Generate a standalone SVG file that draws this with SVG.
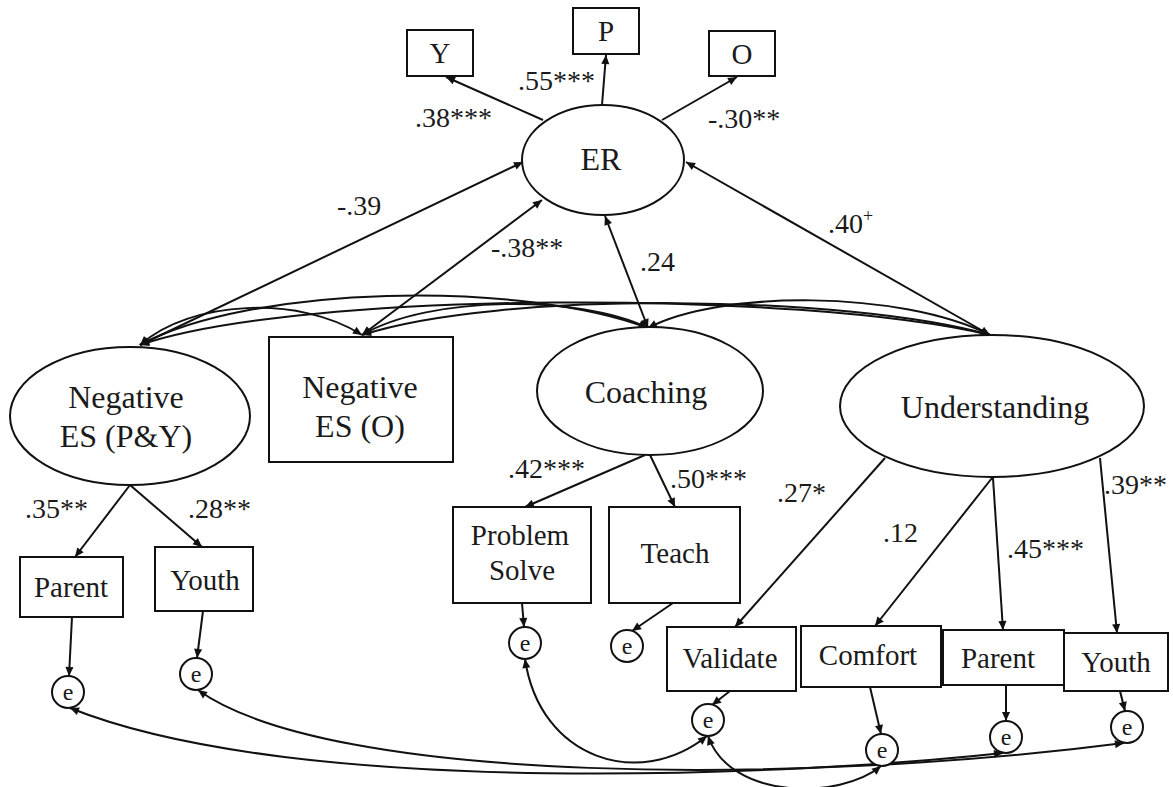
<svg xmlns="http://www.w3.org/2000/svg" width="1173" height="787" viewBox="0 0 1173 787">
<style>
  .shape { fill: #fff; stroke: #111; stroke-width: 2; }
  .big { font-family: "Liberation Serif", "Times New Roman", serif; font-size: 32px; fill: #1a1a1a; text-anchor: middle; }
  .sm { font-family: "Liberation Serif", "Times New Roman", serif; font-size: 29px; fill: #1a1a1a; text-anchor: middle; }
  .e { font-family: "Liberation Serif", "Times New Roman", serif; font-size: 24px; fill: #1a1a1a; text-anchor: middle; }
  .lbl { font-family: "Liberation Serif", "Times New Roman", serif; font-size: 28px; fill: #1a1a1a; }
  .c { fill: none; stroke: #111; stroke-width: 2; }
  .one { marker-end: url(#ah); }
  .two { marker-start: url(#ah); marker-end: url(#ah); }
</style>
<defs>
  <marker id="ah" viewBox="0 0 10 10" refX="10" refY="5" markerWidth="11" markerHeight="9" markerUnits="userSpaceOnUse" orient="auto-start-reverse">
    <path d="M0,0.5 L10,5 L0,9.5 z" fill="#111"/>
  </marker>
</defs>
<rect width="1173" height="787" fill="#fff"/>

<g id="connectors">
  <!-- ER indicators -->
  <path class="c one" d="M543,120 L446,77"/>
  <path class="c one" d="M602,105 L606,55"/>
  <path class="c one" d="M662,120 L737,77"/>
  <!-- predictors to ER -->
  <path class="c two" d="M140,345 L523,162"/>
  <path class="c two" d="M362,335 L542,200"/>
  <path class="c two" d="M648,328 L605,216"/>
  <path class="c two" d="M990,335 L686,162"/>
  <!-- covariances among predictors -->
  <path class="c two" d="M140,345 C190,300 300,295 362,335"/>
  <path class="c two" d="M140,345 C250,285 520,280 648,328"/>
  <path class="c two" d="M140,345 C300,290 800,290 990,335"/>
  <path class="c two" d="M362,335 C430,295 580,295 648,328"/>
  <path class="c two" d="M362,335 C500,290 850,295 990,335"/>
  <path class="c two" d="M648,328 C720,290 900,290 990,335"/>
  <!-- loadings -->
  <path class="c one" d="M130,485 L75,557"/>
  <path class="c one" d="M130,485 L202,547"/>
  <path class="c one" d="M645,455 L525,507"/>
  <path class="c one" d="M650,455 L675,507"/>
  <path class="c one" d="M885,458 L735,627"/>
  <path class="c one" d="M992,478 L875,626"/>
  <path class="c one" d="M993,478 L1003,630"/>
  <path class="c one" d="M1100,458 L1117,633"/>
  <!-- indicators to errors -->
  <path class="c one" d="M72,617 L69,676"/>
  <path class="c one" d="M203,611 L197,658"/>
  <path class="c one" d="M522,603 L524,627"/>
  <path class="c one" d="M673,603 L632,631"/>
  <path class="c one" d="M730,691 L712,705"/>
  <path class="c one" d="M870,687 L881,734"/>
  <path class="c one" d="M1006,685 L1006,721"/>
  <path class="c one" d="M1120,691 L1125,711"/>
  <!-- error covariances -->
  <path class="c two" d="M70,708 C300,800 800,775 1003,753"/>
  <path class="c two" d="M198,690 C330,785 800,785 1124,743"/>
  <path class="c two" d="M525,659 C540,760 640,790 707,736"/>
  <path class="c two" d="M708,736 C730,800 840,800 881,766"/>
</g>

<g id="ER"><ellipse class="shape" cx="603" cy="160" rx="81" ry="55"/><text class="big" x="601" y="170">ER</text></g>
<g id="Y"><rect class="shape" x="407" y="30" width="66" height="46"/><text class="sm" x="440" y="63">Y</text></g>
<g id="P"><rect class="shape" x="573" y="8" width="66" height="46"/><text class="sm" x="606" y="41">P</text></g>
<g id="O"><rect class="shape" x="709" y="31" width="66" height="45"/><text class="sm" x="742" y="64">O</text></g>

<g id="NegESPY"><ellipse class="shape" cx="130" cy="416" rx="120" ry="69"/><text class="big" x="126" y="408">Negative</text><text class="big" x="126" y="447">ES (P&amp;Y)</text></g>
<g id="NegESO"><rect class="shape" x="269" y="337" width="184" height="125"/><text class="big" x="360" y="398">Negative</text><text class="big" x="360" y="437">ES (O)</text></g>
<g id="Coaching"><ellipse class="shape" cx="650" cy="391" rx="113" ry="64"/><text class="big" x="646" y="403">Coaching</text></g>
<g id="Understanding"><ellipse class="shape" cx="992" cy="406" rx="152" ry="71"/><text class="big" x="995" y="418">Understanding</text></g>

<g id="ParentL"><rect class="shape" x="20" y="557" width="103" height="60"/><text class="sm" x="71" y="597">Parent</text></g>
<g id="YouthL"><rect class="shape" x="155" y="547" width="98" height="64"/><text class="sm" x="205" y="590">Youth</text></g>
<g id="ProblemSolve"><rect class="shape" x="453" y="507" width="138" height="96"/><text class="sm" x="520" y="545">Problem</text><text class="sm" x="522" y="580">Solve</text></g>
<g id="Teach"><rect class="shape" x="609" y="507" width="131" height="96"/><text class="sm" x="675" y="563">Teach</text></g>
<g id="Validate"><rect class="shape" x="667" y="627" width="129" height="64"/><text class="sm" x="730" y="668">Validate</text></g>
<g id="Comfort"><rect class="shape" x="801" y="626" width="140" height="61"/><text class="sm" x="868" y="665">Comfort</text></g>
<g id="ParentR"><rect class="shape" x="943" y="630" width="121" height="55"/><text class="sm" x="998" y="668">Parent</text></g>
<g id="YouthR"><rect class="shape" x="1064" y="633" width="104" height="58"/><text class="sm" x="1116" y="672">Youth</text></g>

<g id="eParentL"><ellipse class="shape" cx="68" cy="692" rx="16" ry="16"/><text class="e" x="68" y="700">e</text></g>
<g id="eYouthL"><ellipse class="shape" cx="196" cy="674" rx="16" ry="16"/><text class="e" x="196" y="682">e</text></g>
<g id="eProblem"><ellipse class="shape" cx="525" cy="643" rx="16" ry="16"/><text class="e" x="525" y="651">e</text></g>
<g id="eTeach"><ellipse class="shape" cx="627" cy="646" rx="16" ry="16"/><text class="e" x="627" y="654">e</text></g>
<g id="eValidate"><ellipse class="shape" cx="708" cy="720" rx="16" ry="16"/><text class="e" x="708" y="728">e</text></g>
<g id="eComfort"><ellipse class="shape" cx="882" cy="750" rx="16" ry="16"/><text class="e" x="882" y="758">e</text></g>
<g id="eParentR"><ellipse class="shape" cx="1006" cy="737" rx="16" ry="16"/><text class="e" x="1006" y="745">e</text></g>
<g id="eYouthR"><ellipse class="shape" cx="1127" cy="727" rx="16" ry="16"/><text class="e" x="1127" y="735">e</text></g>

<g id="labels">
  <text class="lbl" x="415" y="127">.38***</text>
  <text class="lbl" x="518" y="90">.55***</text>
  <text class="lbl" x="708" y="128">-.30**</text>
  <text class="lbl" x="337" y="215">-.39</text>
  <text class="lbl" x="491" y="257">-.38**</text>
  <text class="lbl" x="640" y="271">.24</text>
  <text class="lbl" x="828" y="233">.40<tspan font-size="18" dy="-11">+</tspan></text>
  <text class="lbl" x="25" y="518">.35**</text>
  <text class="lbl" x="188" y="518">.28**</text>
  <text class="lbl" x="508" y="478">.42***</text>
  <text class="lbl" x="670" y="488">.50***</text>
  <text class="lbl" x="777" y="502">.27*</text>
  <text class="lbl" x="883" y="542">.12</text>
  <text class="lbl" x="1007" y="558">.45***</text>
  <text class="lbl" x="1104" y="494">.39**</text>
</g>
</svg>
